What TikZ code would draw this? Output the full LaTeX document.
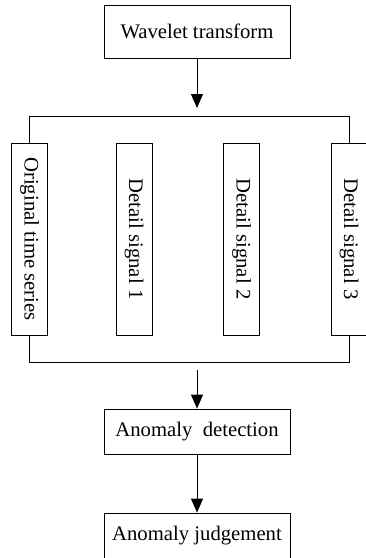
\documentclass[tikz,border=0pt]{standalone}
\usepackage{fontspec}
\setmainfont{Liberation Serif}
\usetikzlibrary{arrows.meta}
\tikzset{
  box/.style={draw, line width=0.8pt, minimum width=186pt, inner sep=0pt, font=\fontsize{20.7}{24}\selectfont},
  vbox/.style={draw, line width=0.8pt, rotate=-90, minimum width=192pt, minimum height=36pt, inner sep=0pt, font=\fontsize{20.7}{24}\selectfont},
  arr/.style={line width=0.8pt, -{Triangle[length=14pt,width=12pt]}}
}
\begin{document}
\begin{tikzpicture}[x=1pt,y=-1pt]
\useasboundingbox (0,0) rectangle (366,558);
\clip (0,0) rectangle (366,558);
% boxes
\node[box, minimum height=53pt] (wavelet) at (197,31.5) {Wavelet transform};
\node[vbox] (orig) at (29.5,239) {Original time series};
\node[vbox] (det1) at (134,239) {Detail signal 1};
\node[vbox] (det2) at (241.5,239) {Detail signal 2};
\node[vbox] (det3) at (349,239) {Detail signal 3};
\node[box, minimum height=45pt] (detect) at (197,431.5) {Anomaly\ \ detection};
\node[box, minimum height=46pt] (judge) at (197,536) {Anomaly judgement};
% connectors
\coordinate (fork) at (197,108);
\coordinate (topbar) at (197,116);
\coordinate (botbar) at (197,362);
\coordinate (merge) at (197,370);
\draw[arr] (wavelet.south) -- (fork);
\draw[line width=0.8pt] (orig.west) -- (orig.west |- topbar) -- (det3.west |- topbar) -- (det3.west);
\draw[line width=0.8pt] (orig.east) -- (orig.east |- botbar) -- (det3.east |- botbar) -- (det3.east);
\draw[arr] (merge) -- (detect.north);
\draw[arr] (detect.south) -- (judge.north);
\end{tikzpicture}
\end{document}
